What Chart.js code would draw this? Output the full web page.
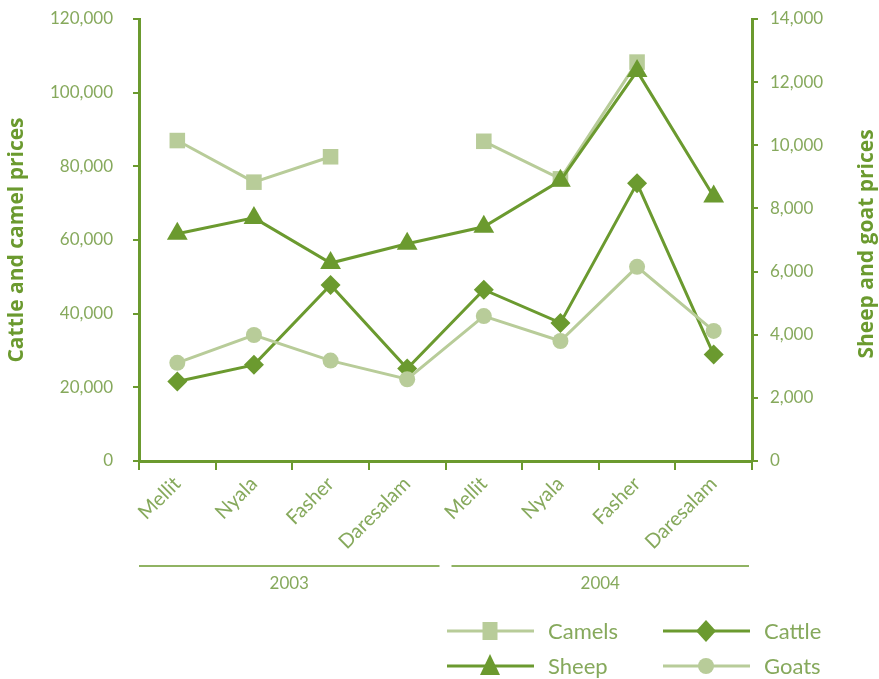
<!DOCTYPE html>
<html>
<head>
<meta charset="utf-8">
<style>
	body { margin: 0; background: #fff; }
	#wrap { width: 879px; height: 679px; }
</style>
</head>
<body>
<div id="wrap">
	<canvas id="myChart" width="879" height="679"></canvas>
</div>

<script src="https://cdn.jsdelivr.net/npm/chart.js"></script>
<script>
	// categories: markets, grouped by year
	const markets = ['Mellit', 'Nyala', 'Fasher', 'Daresalam', 'Mellit', 'Nyala', 'Fasher', 'Daresalam']
	const years = ['2003', '2004']

	// left axis (cattle and camel prices)
	const camels = [87000, 75700, 82600, null, 86800, 76600, 108300, null]
	const cattle = [21600, 26100, 47800, 25100, 46500, 37500, 75400, 28900]
	// right axis (sheep and goat prices)
	const sheep = [7200, 7700, 6270, 6880, 7420, 8880, 12350, 8380]
	const goats = [3110, 3990, 3180, 2590, 4590, 3800, 6150, 4120]

	const dark = '#6b9a2f'
	const light = '#b8cc99'
	const txt = '#86a95c'
	const font = 'Lato'
	const titleFont = 'Open Sans'

	const fmt = v => Number(v).toLocaleString('en-US')

	const extras = {
		id: 'extras',
		afterDraw(chart) {
			const ctx = chart.ctx
			const x = chart.scales.x
			const y2 = chart.scales.y2
			ctx.save()

			// right axis title, reading bottom to top
			ctx.translate(867, (y2.top + y2.bottom) / 2 + 4)
			ctx.rotate(-Math.PI / 2)
			ctx.fillStyle = dark
			ctx.font = 'bold 21px "' + titleFont + '"'
			ctx.textAlign = 'center'
			ctx.textBaseline = 'middle'
			ctx.fillText('Sheep and goat prices', 0, 0)
			ctx.setTransform(1, 0, 0, 1, 0, 0)

			// year groups under the market labels
			const half = (x.getPixelForValue(1) - x.getPixelForValue(0)) / 2
			const mid = x.getPixelForValue(3) + half
			const groups = [[x.left, mid - 6], [mid + 6, x.right - 3]]
			ctx.strokeStyle = dark
			ctx.lineWidth = 1.5
			ctx.fillStyle = txt
			ctx.font = '17px ' + font
			groups.forEach((g, i) => {
				ctx.beginPath()
				ctx.moveTo(g[0], 566)
				ctx.lineTo(g[1], 566)
				ctx.stroke()
				ctx.fillText(years[i], (g[0] + g[1]) / 2, 584)
			})

			// legend
			const items = [
				{ label: 'Camels', color: light, shape: 'square', x: 447, y: 631 },
				{ label: 'Cattle', color: dark, shape: 'diamond', x: 663, y: 631 },
				{ label: 'Sheep', color: dark, shape: 'triangle', x: 447, y: 666 },
				{ label: 'Goats', color: light, shape: 'circle', x: 663, y: 666 },
			]
			ctx.font = '22px ' + font
			ctx.textAlign = 'left'
			items.forEach(it => {
				ctx.strokeStyle = it.color
				ctx.fillStyle = it.color
				ctx.lineWidth = 3
				ctx.beginPath()
				ctx.moveTo(it.x, it.y)
				ctx.lineTo(it.x + 87, it.y)
				ctx.stroke()
				const cx = it.x + 43, cy = it.y
				ctx.beginPath()
				if (it.shape === 'square') ctx.rect(cx - 7.5, cy - 9, 15, 18)
				if (it.shape === 'diamond') { ctx.moveTo(cx, cy - 11); ctx.lineTo(cx + 10, cy); ctx.lineTo(cx, cy + 11); ctx.lineTo(cx - 10, cy) }
				if (it.shape === 'triangle') { ctx.moveTo(cx, cy - 12); ctx.lineTo(cx + 10, cy + 9); ctx.lineTo(cx - 10, cy + 9) }
				if (it.shape === 'circle') ctx.arc(cx, cy, 8, 0, Math.PI * 2)
				ctx.closePath()
				ctx.fill()
				ctx.fillStyle = txt
				ctx.fillText(it.label, it.x + 101, it.y + 1)
			})
			ctx.restore()
		}
	}

	const data = {
		labels: markets,
		datasets: [
			{ label: 'Camels', data: camels, yAxisID: 'y', borderColor: light, backgroundColor: light, pointStyle: 'rect', pointRadius: 11, order: 4 },
			{ label: 'Cattle', data: cattle, yAxisID: 'y', borderColor: dark, backgroundColor: dark, pointStyle: 'rectRot', pointRadius: 10, order: 3 },
			{ label: 'Sheep', data: sheep, yAxisID: 'y2', borderColor: dark, backgroundColor: dark, pointStyle: 'triangle', pointRadius: 12, order: 2 },
			{ label: 'Goats', data: goats, yAxisID: 'y2', borderColor: light, backgroundColor: light, pointStyle: 'circle', pointRadius: 8, order: 1 },
		]
	}
	data.datasets.forEach(d => {
		d.borderWidth = 3
		d.pointBorderWidth = 0
		d.pointHoverRadius = d.pointRadius
		d.tension = 0
	})

	// keep the tick label gap from pushing the plot area down
	const squeeze = w => s => { s.width = w; s.paddingTop = 10; s.paddingBottom = 10 }

	const chart = new Chart(
		document.getElementById('myChart'),
		{
			type: 'line',
			data,
			plugins: [extras],
			options: {
				responsive: false,
				animation: false,
				layout: { autoPadding: false, padding: { top: 19 } },
				plugins: { legend: { display: false }, tooltip: { enabled: false } },
				scales: {
					x: {
						offset: true,
						grid: { offset: true, drawOnChartArea: false, color: dark, tickLength: 9, lineWidth: 2 },
						border: { color: dark, width: 3 },
						ticks: { color: txt, font: { family: font, size: 20 }, minRotation: 45, maxRotation: 45, padding: 2 },
						afterFit(s) { s.height = 218 }
					},
					y: {
						position: 'left',
						min: 0, max: 120000,
						grid: { drawOnChartArea: false, color: dark, tickLength: 6, lineWidth: 2 },
						border: { color: dark, width: 3 },
						ticks: { stepSize: 20000, color: txt, font: { family: font, size: 17 }, padding: 20, callback: fmt },
						title: { display: true, text: 'Cattle and camel prices', color: dark, font: { family: titleFont, size: 21, weight: 'bold' }, padding: { top: 4, bottom: 0 } },
						afterFit: squeeze(139)
					},
					y2: {
						position: 'right',
						min: 0, max: 14000,
						grid: { drawOnChartArea: false, color: dark, tickLength: 6, lineWidth: 2 },
						border: { color: dark, width: 3 },
						ticks: { stepSize: 2000, color: txt, font: { family: font, size: 17 }, padding: 12, callback: fmt },
						afterFit: squeeze(127)
					}
				}
			}
		}
	)
</script>
</body>
</html>
